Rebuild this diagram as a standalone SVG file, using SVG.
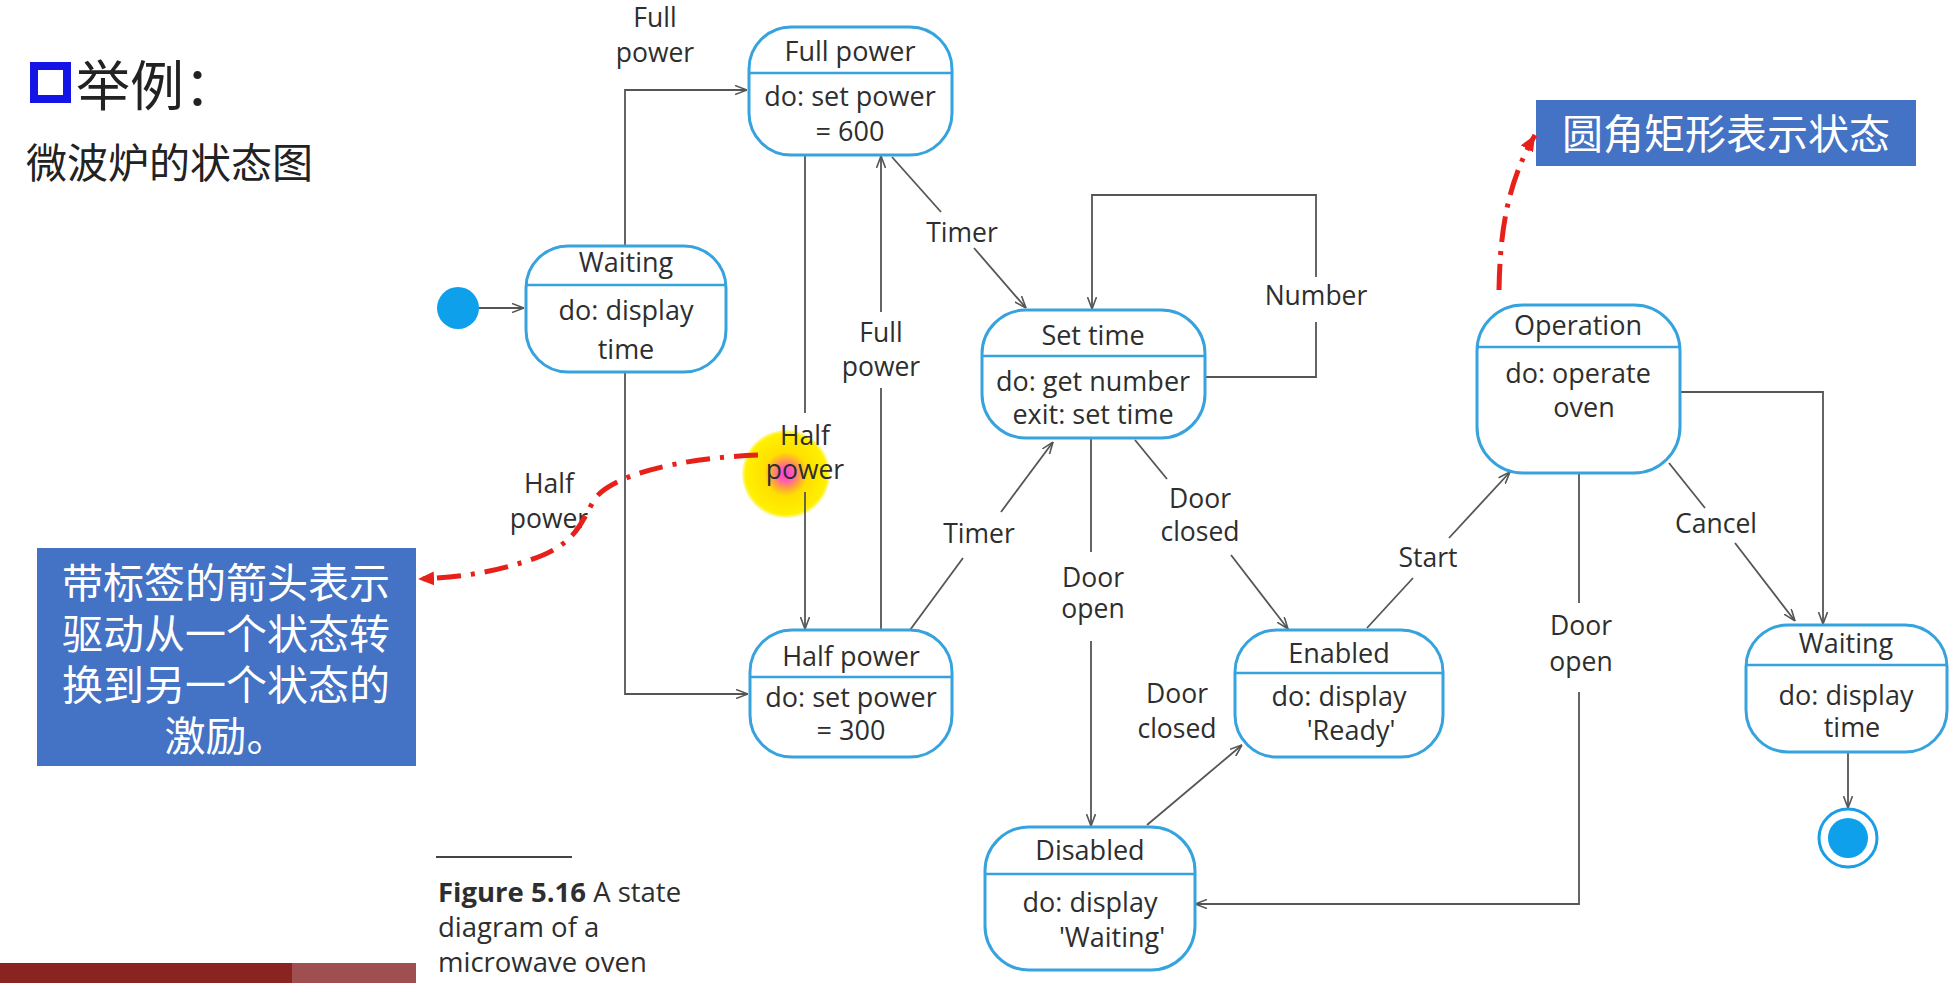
<svg xmlns="http://www.w3.org/2000/svg" width="1959" height="983" viewBox="0 0 1959 983">
<defs>
<style>
.t{font-family:"Open Sans","Noto Sans",sans-serif;font-size:27px;fill:#2e2e2e;text-anchor:middle}
.lb{font-size:26.5px}
.cjk{font-family:"Noto Sans CJK SC","Noto Sans",sans-serif}
.st{fill:#fff;stroke:#36a3de;stroke-width:3}
.dv{stroke:#36a3de;stroke-width:2.5}
.cn{fill:none;stroke:#555;stroke-width:1.8}
.red{fill:none;stroke:#e8201a;stroke-width:5;stroke-dasharray:24 10 4 10}
</style>
<marker id="ah" viewBox="0 0 12 10" refX="12" refY="5" markerWidth="12" markerHeight="10" markerUnits="userSpaceOnUse" orient="auto">
<path d="M0,0.5 L12,5 L0,9.5" fill="none" stroke="#555" stroke-width="1.6"/>
</marker>
<marker id="rah" viewBox="0 0 16 14" refX="16" refY="7" markerWidth="16" markerHeight="14" markerUnits="userSpaceOnUse" orient="auto">
<path d="M0,0 L16,7 L0,14 Z" fill="#e8201a"/>
</marker>
<radialGradient id="hl" cx="0.5" cy="0.5" r="0.5">
<stop offset="0" stop-color="#ff3fd0"/>
<stop offset="0.16" stop-color="#ff5ab8"/>
<stop offset="0.32" stop-color="#ffa040"/>
<stop offset="0.5" stop-color="#ffe000"/>
<stop offset="0.92" stop-color="#fff000"/>
<stop offset="1" stop-color="#fff000" stop-opacity="0.3"/>
</radialGradient>
</defs>
<rect width="1959" height="983" fill="#fff"/>

<g id="title">
<rect x="34" y="66" width="33" height="33" fill="none" stroke="#1414e6" stroke-width="8"/>
<text x="76" y="106" class="cjk" font-size="54" fill="#222">举例：</text>
<text x="26" y="178" class="cjk" font-size="41" fill="#222">微波炉的状态图</text>
</g>

<g id="bottom-bar">
<rect x="0" y="963" width="292" height="20" fill="#8a2420"/>
<rect x="292" y="963" width="124" height="20" fill="#a04f50"/>
</g>

<g id="caption">
<line x1="436" y1="857" x2="572" y2="857" stroke="#444" stroke-width="2"/>
<text x="438" y="902" class="t" style="text-anchor:start;font-size:27.5px"><tspan font-weight="bold">Figure 5.16</tspan> A state</text>
<text x="438" y="937" class="t" style="text-anchor:start;font-size:27.5px">diagram of a</text>
<text x="438" y="972" class="t" style="text-anchor:start;font-size:27.5px">microwave oven</text>
</g>

<g id="highlight">
<circle cx="786" cy="474" r="44" fill="url(#hl)"/>
</g>

<g id="connectors">
<path class="cn" d="M479 308 H524" marker-end="url(#ah)"/>
<path class="cn" d="M625 246 V90 H747" marker-end="url(#ah)"/>
<path class="cn" d="M625 372 V694 H748" marker-end="url(#ah)"/>
<path class="cn" d="M805 155 V413"/>
<path class="cn" d="M805 492 V629" marker-end="url(#ah)"/>
<path class="cn" d="M881 630 V388"/>
<path class="cn" d="M881 312 V156" marker-end="url(#ah)"/>
<path class="cn" d="M892 157 L941 212"/>
<path class="cn" d="M974 248 L1026 308" marker-end="url(#ah)"/>
<path class="cn" d="M910 630 L963 558"/>
<path class="cn" d="M1001 512 L1053 442" marker-end="url(#ah)"/>
<path class="cn" d="M1205 377 H1316 V322"/>
<path class="cn" d="M1316 277 V195 H1092 V309" marker-end="url(#ah)"/>
<path class="cn" d="M1091 438 V552"/>
<path class="cn" d="M1091 641 V826" marker-end="url(#ah)"/>
<path class="cn" d="M1135 440 L1167 479"/>
<path class="cn" d="M1231 555 L1288 629" marker-end="url(#ah)"/>
<path class="cn" d="M1147 825 L1242 745" marker-end="url(#ah)"/>
<path class="cn" d="M1367 628 L1413 578"/>
<path class="cn" d="M1449 538 L1510 472" marker-end="url(#ah)"/>
<path class="cn" d="M1579 474 V603"/>
<path class="cn" d="M1579 692 V904 H1195" marker-end="url(#ah)"/>
<path class="cn" d="M1669 463 L1705 508"/>
<path class="cn" d="M1735 543 L1795 621" marker-end="url(#ah)"/>
<path class="cn" d="M1680 392 H1823 V624" marker-end="url(#ah)"/>
<path class="cn" d="M1848 752 V808" marker-end="url(#ah)"/>
</g>

<g id="labels">
<text class="t lb" x="655" y="27">Full</text>
<text class="t lb" x="655" y="62">power</text>
<text class="t lb" x="549" y="493">Half</text>
<text class="t lb" x="549" y="528">power</text>
<text class="t lb" x="805" y="445">Half</text>
<text class="t lb" x="805" y="479">power</text>
<text class="t lb" x="881" y="342">Full</text>
<text class="t lb" x="881" y="376">power</text>
<text class="t lb" x="962" y="242">Timer</text>
<text class="t lb" x="979" y="543">Timer</text>
<text class="t lb" x="1316" y="305">Number</text>
<text class="t lb" x="1093" y="587">Door</text>
<text class="t lb" x="1093" y="618">open</text>
<text class="t lb" x="1200" y="508">Door</text>
<text class="t lb" x="1200" y="541">closed</text>
<text class="t lb" x="1177" y="703">Door</text>
<text class="t lb" x="1177" y="738">closed</text>
<text class="t lb" x="1428" y="567">Start</text>
<text class="t lb" x="1716" y="533">Cancel</text>
<text class="t lb" x="1581" y="635">Door</text>
<text class="t lb" x="1581" y="671">open</text>
</g>

<g id="initial">
<circle cx="458" cy="308" r="21" fill="#0ea0ea"/>
</g>

<g id="waiting1">
<rect class="st" x="526" y="246" width="200" height="126" rx="42"/>
<line class="dv" x1="527" y1="285" x2="725" y2="285"/>
<text class="t" x="626" y="272">Waiting</text>
<text class="t" x="626" y="320">do: display</text>
<text class="t" x="626" y="359">time</text>
</g>

<g id="fullpower">
<rect class="st" x="749" y="27" width="203" height="128" rx="42"/>
<line class="dv" x1="749" y1="73" x2="952" y2="73"/>
<text class="t" x="850" y="61">Full power</text>
<text class="t" x="850" y="106">do: set power</text>
<text class="t" x="850" y="141">= 600</text>
</g>

<g id="halfpower">
<rect class="st" x="750" y="630" width="202" height="127" rx="42"/>
<line class="dv" x1="750" y1="677" x2="952" y2="677"/>
<text class="t" x="851" y="666">Half power</text>
<text class="t" x="851" y="707">do: set power</text>
<text class="t" x="851" y="740">= 300</text>
</g>

<g id="settime">
<rect class="st" x="982" y="310" width="223" height="128" rx="44"/>
<line class="dv" x1="982" y1="356" x2="1205" y2="356"/>
<text class="t" x="1093" y="345">Set time</text>
<text class="t" x="1093" y="391">do: get number</text>
<text class="t" x="1093" y="424">exit: set time</text>
</g>

<g id="operation">
<rect class="st" x="1477" y="305" width="203" height="168" rx="46"/>
<line class="dv" x1="1477" y1="347" x2="1680" y2="347"/>
<text class="t" x="1578" y="335">Operation</text>
<text class="t" x="1578" y="383">do: operate</text>
<text class="t" x="1584" y="417">oven</text>
</g>

<g id="enabled">
<rect class="st" x="1235" y="630" width="208" height="127" rx="42"/>
<line class="dv" x1="1235" y1="673" x2="1443" y2="673"/>
<text class="t" x="1339" y="663">Enabled</text>
<text class="t" x="1339" y="706">do: display</text>
<text class="t" x="1351" y="740">'Ready'</text>
</g>

<g id="waiting2">
<rect class="st" x="1746" y="625" width="201" height="127" rx="42"/>
<line class="dv" x1="1746" y1="665" x2="1947" y2="665"/>
<text class="t" x="1846" y="653">Waiting</text>
<text class="t" x="1846" y="705">do: display</text>
<text class="t" x="1852" y="737">time</text>
</g>

<g id="disabled">
<rect class="st" x="985" y="827" width="210" height="143" rx="44"/>
<line class="dv" x1="985" y1="874" x2="1195" y2="874"/>
<text class="t" x="1090" y="860">Disabled</text>
<text class="t" x="1090" y="912">do: display</text>
<text class="t" x="1112" y="947">'Waiting'</text>
</g>

<g id="final">
<circle cx="1848" cy="838" r="29" fill="#fff" stroke="#1a9ee6" stroke-width="3"/>
<circle cx="1848" cy="838" r="20" fill="#0ea0ea"/>
</g>

<g id="note1">
<rect x="37" y="548" width="379" height="218" fill="#4472c4"/>
<text x="226" y="598" class="cjk" font-size="41" fill="#fff" text-anchor="middle">带标签的箭头表示</text>
<text x="226" y="649" class="cjk" font-size="41" fill="#fff" text-anchor="middle">驱动从一个状态转</text>
<text x="226" y="700" class="cjk" font-size="41" fill="#fff" text-anchor="middle">换到另一个状态的</text>
<text x="226" y="751" class="cjk" font-size="41" fill="#fff" text-anchor="middle">激励。</text>
</g>

<g id="note2">
<rect x="1536" y="100" width="380" height="66" fill="#4472c4"/>
<text x="1726" y="149" class="cjk" font-size="41" fill="#fff" text-anchor="middle">圆角矩形表示状态</text>
</g>

<g id="callouts">
<path class="red" d="M758 455 C 680 458, 610 475, 594 500 C 580 525, 575 545, 530 560 C 500 570, 470 577, 418 579" marker-end="url(#rah)"/>
<path class="red" style="stroke-dasharray:26 9 4 9" d="M1499 290 C 1500 235, 1506 185, 1535 135" marker-end="url(#rah)"/>
</g>
</svg>
